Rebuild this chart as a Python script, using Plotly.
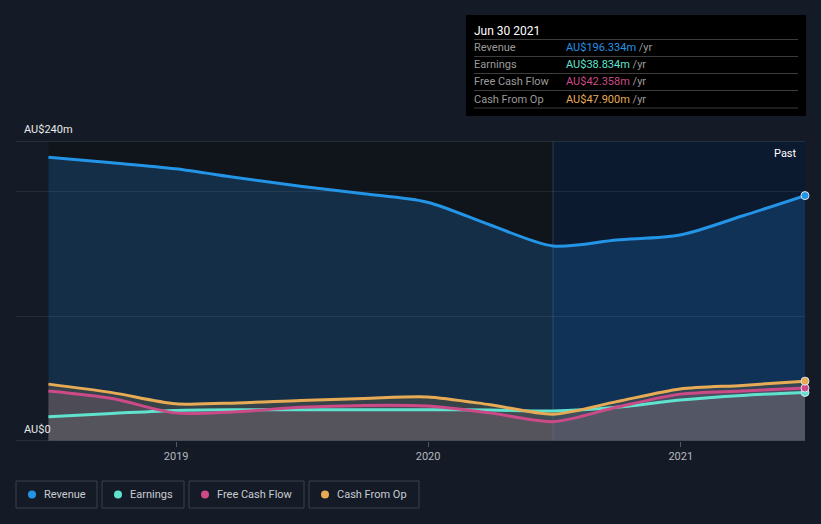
import plotly.graph_objects as go

dates = ["2018-06-30", "2018-09-30", "2018-12-31", "2019-03-31", "2019-06-30",
         "2019-09-30", "2019-12-31", "2020-03-31", "2020-06-30", "2020-09-30",
         "2020-12-31", "2021-03-31", "2021-06-30"]
revenue = [227.0, 222.6, 217.8, 210.6, 203.8, 197.8, 191.0, 172.8, 156.0, 160.8, 164.8, 180.0, 196.334]
earnings = [19.4, 22.0, 24.5, 25.0, 25.0, 25.0, 25.0, 24.8, 24.0, 27.0, 32.8, 36.5, 38.834]
fcf = [40.0, 34.0, 22.5, 23.5, 27.0, 28.5, 28.0, 22.5, 15.5, 27.0, 37.5, 40.0, 42.358]
cfo = [45.5, 38.7, 29.8, 30.5, 32.5, 34.0, 35.3, 29.0, 21.5, 31.5, 41.6, 44.5, 47.9]

series_names = ["Revenue", "Earnings", "Free Cash Flow", "Cash From Op"]
series_colors = ["#2394e6", "#5fe3cf", "#cc4a88", "#e8ab55"]
tooltip_values = ["AU$196.334m", "AU$38.834m", "AU$42.358m", "AU$47.900m"]
tooltip_date = "Jun 30 2021"
y_labels = ["AU$240m", "AU$0"]
x_tick_vals = ["2019-01-01", "2020-01-01", "2021-01-01"]
x_tick_text = ["2019", "2020", "2021"]

W, H = 821, 524
L, R, T, B = 16, 16, 141, 83
PW = W - L - R
PH = H - T - B


def px(x):
    return (x - L) / PW


def py(y):
    return (H - B - y) / PH


FONT = "Roboto"
fig = go.Figure()

fills = [
    (revenue, "rgba(33,150,243,0.20)"),
    (cfo, "rgba(120,110,80,0.35)"),
    (fcf, "rgba(170,110,140,0.20)"),
    (earnings, "rgba(150,150,150,0.12)"),
]
for vals, fc in fills:
    fig.add_trace(go.Scatter(x=dates, y=vals, mode="lines", line=dict(width=0, shape="spline", smoothing=0.8),
                             fill="tozeroy", fillcolor=fc, hoverinfo="skip", showlegend=False))

all_vals = [revenue, earnings, fcf, cfo]
order = [1, 2, 3, 0]
for i in order:
    vals = all_vals[i]
    fig.add_trace(go.Scatter(x=dates, y=vals, mode="lines",
                             line=dict(color=series_colors[i], width=3, shape="spline", smoothing=0.8),
                             hoverinfo="skip", showlegend=False))
for i in order:
    vals = all_vals[i]
    fig.add_trace(go.Scatter(x=[dates[-1]], y=[vals[-1]], mode="markers",
                             marker=dict(color=series_colors[i], size=8, line=dict(color="#d8e4f0", width=1)),
                             hoverinfo="skip", showlegend=False, cliponaxis=False))

shapes = []
# backgrounds
shapes.append(dict(type="rect", xref="x", yref="paper", x0=dates[0], x1="2020-06-30", y0=0, y1=1,
                   fillcolor="#10141b", line=dict(width=0), layer="below"))
shapes.append(dict(type="rect", xref="x", yref="paper", x0="2020-06-30", x1=dates[-1], y0=0, y1=1,
                   fillcolor="#0c1a30", line=dict(width=0), layer="below"))
shapes.append(dict(type="line", xref="x", yref="paper", x0="2020-06-30", x1="2020-06-30", y0=0, y1=1,
                   line=dict(color="rgba(70,95,130,0.5)", width=1), layer="below"))
# top and bottom lines
for yv in [0, 240]:
    shapes.append(dict(type="line", xref="paper", yref="y", x0=0, x1=1, y0=yv, y1=yv,
                       line=dict(color="#3f444c", width=1), layer="above"))

annotations = []
DX = -2
# tooltip box
shapes.append(dict(type="rect", xref="paper", yref="paper", x0=px(466), x1=px(806), y0=py(116), y1=py(15),
                   fillcolor="#000000", line=dict(width=0), layer="above"))
annotations.append(dict(xref="paper", yref="paper", x=px(474 + DX), y=py(31), text=tooltip_date, showarrow=False,
                        xanchor="left", yanchor="middle", font=dict(family=FONT, size=12, color="#ffffff")))
row_y = [48, 65, 82, 99]
for k in range(4):
    yl = row_y[k] - 8.5
    shapes.append(dict(type="line", xref="paper", yref="paper", x0=px(474), x1=px(798), y0=py(yl), y1=py(yl),
                       line=dict(color="#3c3c3c", width=1), layer="above"))
    annotations.append(dict(xref="paper", yref="paper", x=px(474 + DX), y=py(row_y[k]), text=series_names[k],
                            showarrow=False, xanchor="left", yanchor="middle",
                            font=dict(family=FONT, size=11, color="#9a9a9a")))
    annotations.append(dict(xref="paper", yref="paper", x=px(566 + DX), y=py(row_y[k]),
                            text=f"<span style='color:{series_colors[k]}'>{tooltip_values[k]}</span>"
                                 f"<span style='color:#9a9a9a'> /yr</span>",
                            showarrow=False, xanchor="left", yanchor="middle",
                            font=dict(family=FONT, size=11)))
shapes.append(dict(type="line", xref="paper", yref="paper", x0=px(474), x1=px(798), y0=py(108), y1=py(108),
                   line=dict(color="#3c3c3c", width=1), layer="above"))

# y labels
annotations.append(dict(xref="paper", yref="paper", x=px(24 + DX), y=py(129), text=y_labels[0], showarrow=False,
                        xanchor="left", yanchor="middle", font=dict(family=FONT, size=11, color="#e8e8e8")))
annotations.append(dict(xref="paper", yref="paper", x=px(24 + DX), y=py(429), text=y_labels[1], showarrow=False,
                        xanchor="left", yanchor="middle", font=dict(family=FONT, size=11, color="#e8e8e8")))
annotations.append(dict(xref="paper", yref="paper", x=px(799), y=py(153), text="Past", showarrow=False,
                        xanchor="right", yanchor="middle", font=dict(family=FONT, size=11, color="#ffffff")))

# legend boxes
boxes = [(16, 97), (102, 184), (189, 304), (309, 419)]
for k, (x0, x1) in enumerate(boxes):
    shapes.append(dict(type="rect", xref="paper", yref="paper", x0=px(x0), x1=px(x1), y0=py(508), y1=py(481),
                       fillcolor="rgba(0,0,0,0)", line=dict(color="#3c424c", width=1), layer="above"))
    shapes.append(dict(type="circle", xref="paper", yref="paper", x0=px(x0 + 12), x1=px(x0 + 20),
                       y0=py(498.5), y1=py(490.5), fillcolor=series_colors[k], line=dict(width=0), layer="above"))
    annotations.append(dict(xref="paper", yref="paper", x=px(x0 + 28 + DX), y=py(494), text=series_names[k],
                            showarrow=False, xanchor="left", yanchor="middle",
                            font=dict(family=FONT, size=11, color="#c8ccd2")))

fig.update_layout(
    width=W, height=H,
    margin=dict(l=L, r=R, t=T, b=B),
    paper_bgcolor="#151b26",
    plot_bgcolor="rgba(0,0,0,0)",
    showlegend=False,
    shapes=shapes,
    annotations=annotations,
    xaxis=dict(type="date", range=["2018-05-14", "2021-06-30"], tickvals=x_tick_vals, ticktext=x_tick_text,
               showgrid=False, zeroline=False, showline=False, ticks="outside", ticklen=5, tickcolor="#555b64",
               tickfont=dict(family=FONT, size=11, color="#b4b8be"), fixedrange=True),
    yaxis=dict(range=[0, 240], tickvals=[100, 200], showticklabels=False, showgrid=True,
               gridcolor="rgba(255,255,255,0.08)", gridwidth=1, zeroline=False, showline=False, fixedrange=True),
)

fig.write_html("out.html", config={"displayModeBar": False},
               post_script="document.body.style.margin='0';document.body.style.background='#151b26';")
